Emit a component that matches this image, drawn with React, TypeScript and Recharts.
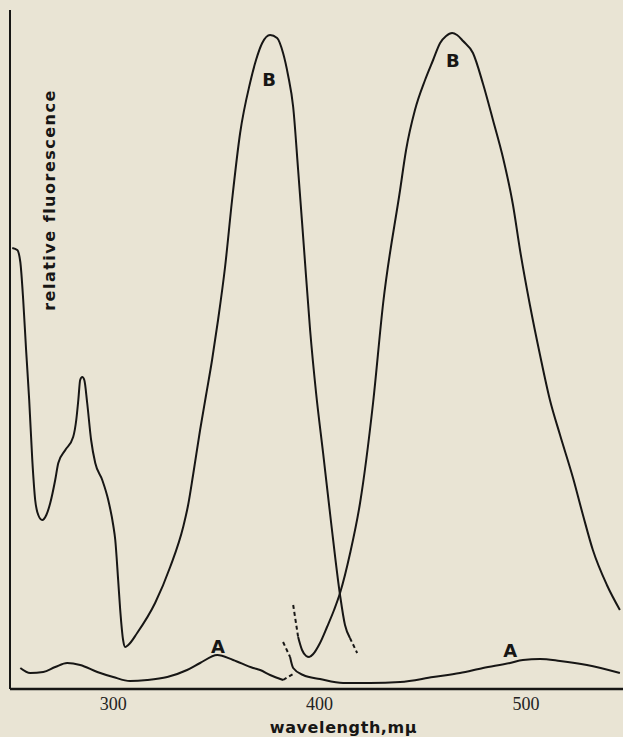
import { LineChart, Line, XAxis, YAxis, ReferenceDot } from "recharts";

// wavelength (mμ) vs relative fluorescence (arbitrary units)
const exB: [number, number][] = [
  [251.1, 441], [253.5, 439], [255.0, 427], [256.4, 389], [257.8, 339], [259.3, 289],
  [260.8, 229], [262.2, 189], [263.7, 174], [265.6, 169], [267.6, 174],
  [269.5, 186], [271.9, 209], [273.4, 226], [276.8, 239], [280.6, 252], [282.1, 269],
  [283.1, 289], [284.0, 309], [285.0, 312], [286.0, 309], [287.4, 286], [289.3, 249],
  [291.3, 226], [294.7, 209], [297.6, 189], [300.0, 164], [301.0, 149], [302.4, 109],
  [303.4, 79], [304.8, 49], [305.8, 42], [307.3, 44], [311.6, 56], [320.3, 86],
  [327.6, 122], [333.9, 162], [336.3, 184], [338.7, 214], [342.1, 259], [345.0, 294],
  [347.9, 329], [350.8, 369], [354.2, 422], [357.6, 489], [361.5, 556], [366.3, 606],
  [369.2, 629], [372.2, 646], [376.0, 654], [379.4, 651], [382.3, 636], [384.7, 614],
  [387.2, 582], [389.6, 519], [392.5, 439], [395.4, 359], [398.3, 296], [401.7, 236],
  [405.6, 166], [409.9, 94], [412.3, 64], [414.7, 51],
];
const exBDash: [number, number][] = [[414.7, 51], [418.2, 36]];

const emBDash: [number, number][] = [[387.2, 84], [389.6, 52]];
const emB: [number, number][] = [
  [389.6, 52], [391.5, 39], [393.5, 33], [394.9, 32], [396.9, 35], [400.2, 46],
  [403.6, 62], [407.0, 79], [409.9, 96], [414.8, 136], [419.6, 186], [425.9, 286],
  [430.8, 386], [439.0, 499], [441.9, 539], [446.2, 579], [451.1, 609], [455.0, 629],
  [458.4, 646], [461.3, 653], [464.2, 656], [466.6, 654], [469.5, 648], [474.3, 636],
  [479.2, 605], [484.0, 569], [488.9, 531], [493.7, 484], [497.1, 439], [501.9, 384],
  [506.8, 334], [511.6, 289], [516.5, 254], [522.8, 211], [527.6, 174], [532.4, 139],
  [539.2, 104], [545.5, 79],
];

const exA: [number, number][] = [
  [255.0, 21], [259.8, 16], [266.1, 17], [271.9, 22], [277.7, 26], [284.0, 24],
  [292.3, 17], [300.0, 12], [308.2, 8], [316.5, 9], [326.2, 12], [335.8, 19],
  [342.1, 26], [350.4, 34], [358.1, 29], [367.8, 21], [371.2, 19], [376.0, 14],
  [382.3, 9],
];
const exADash: [number, number][] = [[382.3, 9], [387.2, 15]];

const emADash: [number, number][] = [[382.3, 47], [385.7, 32]];
const emA: [number, number][] = [
  [385.7, 32], [387.2, 21], [392.0, 14], [400.2, 10], [411.4, 6], [424.5, 6],
  [439.0, 7], [455.0, 12], [468.0, 16], [479.2, 21], [492.3, 26], [498.5, 29],
  [506.8, 30], [516.5, 28], [529.5, 24], [545.5, 16],
];

const xTicks = [300, 400, 500];

// curve letters: [wavelength, value, text]
const curveLabels: [number, number, string][] = [
  [375.5, 609, "B"],
  [464.6, 628, "B"],
  [350.8, 42, "A"],
  [492.3, 38, "A"],
];

const toRows = (pts: [number, number][]) => pts.map(([w, f]) => ({ w, f }));

const INK = "#171615";
const LABEL_FONT = "'DejaVu Sans', sans-serif";

const solid = [exB, emB, exA, emA];
const dashed = [exBDash, emBDash, exADash, emADash];

export default function App() {
  return (
    <div
      style={{
        position: "absolute",
        left: 0,
        top: 0,
        width: 623,
        height: 737,
        background: "#e9e4d4",
      }}
    >
      <LineChart
        width={623}
        height={737}
        margin={{ top: 10, right: 0, left: 9, bottom: 18 }}
      >
        <XAxis
          type="number"
          dataKey="w"
          domain={[250, 547]}
          allowDataOverflow
          ticks={xTicks}
          tickSize={0}
          tickMargin={8}
          height={30}
          axisLine={{ stroke: INK, strokeWidth: 2.5 }}
          tick={{ fill: "#222", fontSize: 18, fontFamily: "'Liberation Serif', serif" }}
          label={{
            content: ({ viewBox }: any) => (
              <text
                x={viewBox.x + viewBox.width / 2 + 27}
                y={viewBox.y + 44}
                textAnchor="middle"
                fontFamily={LABEL_FONT}
                fontWeight="bold"
                fontSize={16}
                letterSpacing={0.6}
                fill={INK}
              >
                wavelength,mμ
              </text>
            ),
          }}
        />
        <YAxis
          type="number"
          dataKey="f"
          domain={[0, 679]}
          allowDataOverflow
          width={1}
          tick={false}
          tickLine={false}
          axisLine={{ stroke: INK, strokeWidth: 2 }}
          label={{
            content: () => (
              <text
                x={55}
                y={200}
                transform="rotate(-90 55 200)"
                textAnchor="middle"
                fontFamily={LABEL_FONT}
                fontWeight="bold"
                fontSize={16}
                letterSpacing={1.5}
                fill={INK}
              >
                relative fluorescence
              </text>
            ),
          }}
        />
        {solid.map((pts, i) => (
          <Line
            key={"s" + i}
            data={toRows(pts)}
            dataKey="f"
            type="monotone"
            stroke={INK}
            strokeWidth={2}
            dot={false}
            isAnimationActive={false}
          />
        ))}
        {dashed.map((pts, i) => (
          <Line
            key={"d" + i}
            data={toRows(pts)}
            dataKey="f"
            type="linear"
            stroke={INK}
            strokeWidth={2}
            strokeDasharray="4 3"
            dot={false}
            isAnimationActive={false}
          />
        ))}
        {curveLabels.map(([w, f, t], i) => (
          <ReferenceDot
            key={"l" + i}
            x={w}
            y={f}
            r={0}
            stroke="none"
            label={{
              value: t,
              position: "center",
              fill: INK,
              fontSize: 18,
              fontWeight: "bold",
              fontFamily: LABEL_FONT,
            }}
          />
        ))}
      </LineChart>
    </div>
  );
}
